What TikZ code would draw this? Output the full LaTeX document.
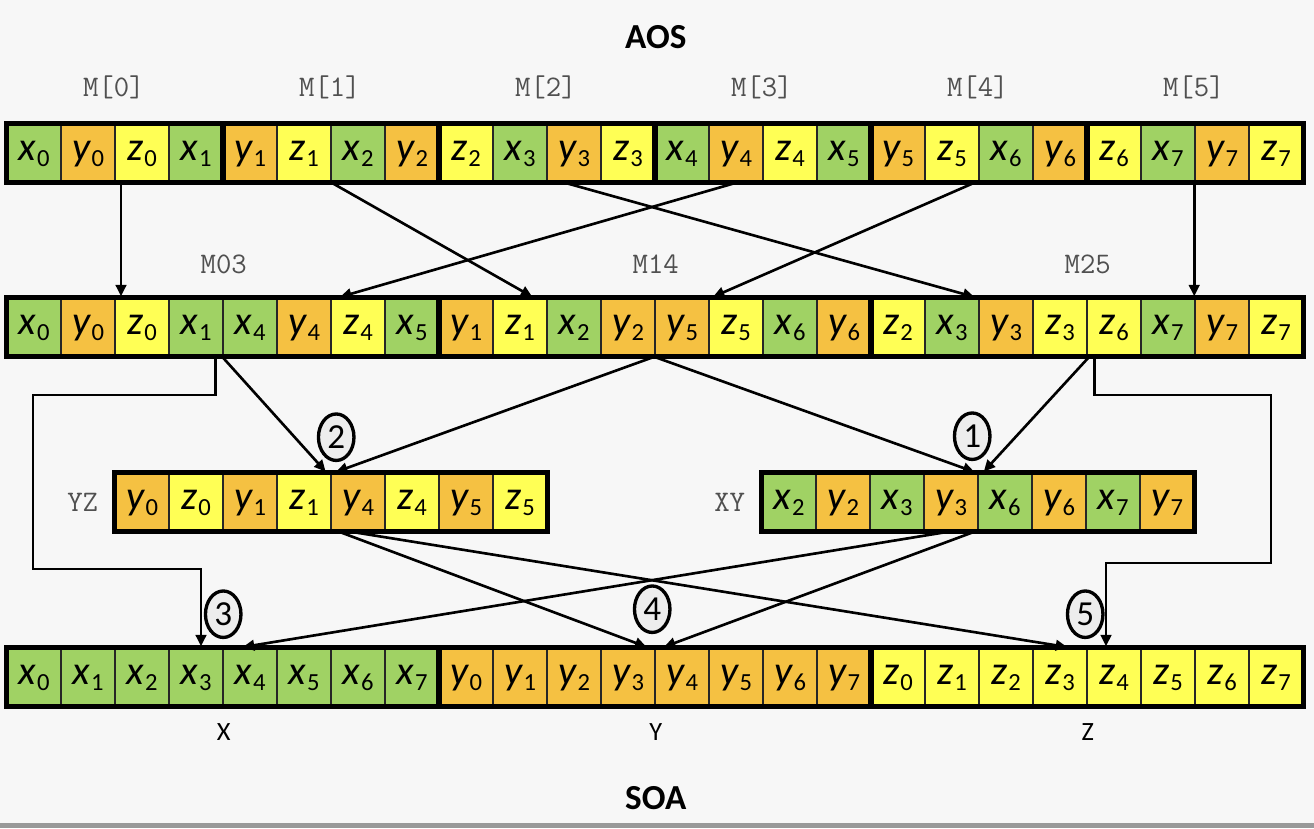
\documentclass[tikz,border=0pt]{standalone}
\usepackage{fontspec}
\setmainfont{Carlito}
\usetikzlibrary{positioning,calc,arrows.meta,shapes.geometric}

\definecolor{colx}{HTML}{A0D264}
\definecolor{coly}{HTML}{F5C142}
\definecolor{colz}{HTML}{FFFF55}
\definecolor{paper}{HTML}{F7F7F7}
\definecolor{labelgray}{HTML}{505050}
\definecolor{numgray}{HTML}{EDEDED}

\newcommand{\elem}[2]{{\itshape #1}\kern0.8pt\raisebox{-3.5pt}{\fontsize{14}{14}\selectfont #2}}

\begin{document}
\begin{tikzpicture}[x=0.02cm,y=-0.02cm,
  cell/.style={draw=black!85,line width=0.9pt,minimum width=1.08cm,minimum height=1.16cm,
    inner sep=0pt,text height=12pt,text depth=4pt,font=\fontsize{23}{23}\selectfont},
  groupbox/.style={draw=black,line width=2.8pt},
  codelabel/.style={font=\ttfamily\fontsize{17}{17}\selectfont,text=labelgray,inner sep=0pt},
  caption/.style={font=\fontsize{15}{15}\selectfont,inner sep=0pt},
  title/.style={font=\bfseries\fontsize{20}{20}\selectfont,inner sep=0pt},
  num/.style={ellipse,draw,line width=1.9pt,fill=numgray,minimum width=0.71cm,
    minimum height=0.93cm,inner sep=0pt,font=\fontsize{20}{20}\selectfont},
  flow/.style={-{Triangle[length=6.5pt,width=6pt]},line width=1.5pt,shorten >=0.5pt}]

   \fill[paper] (0,0) rectangle (1314,828);
   \fill[black!40] (0,823) rectangle (1314,828);

   % AOS row
   \foreach \l/\i [count=\k from 0] in {x/0,y/0,z/0,x/1,y/1,z/1,x/2,y/2,z/2,x/3,y/3,z/3,
       x/4,y/4,z/4,x/5,y/5,z/5,x/6,y/6,z/6,x/7,y/7,z/7}
     \node[cell,fill=col\l] (r1c\k) at ({34+54*\k},153) {\elem{\l}{\i}};
   \foreach \a/\b in {0/3,4/7,8/11,12/15,16/19,20/23}
     \draw[groupbox] (r1c\a.north west) rectangle (r1c\b.south east);

   % shuffled row
   \foreach \l/\i [count=\k from 0] in {x/0,y/0,z/0,x/1,x/4,y/4,z/4,x/5,y/1,z/1,x/2,y/2,
       y/5,z/5,x/6,y/6,z/2,x/3,y/3,z/3,z/6,x/7,y/7,z/7}
     \node[cell,fill=col\l] (r2c\k) at ({34+54*\k},327) {\elem{\l}{\i}};
   \foreach \a/\b in {0/7,8/15,16/23}
     \draw[groupbox] (r2c\a.north west) rectangle (r2c\b.south east);

   % YZ and XY
   \foreach \l/\i [count=\k from 0] in {y/0,z/0,y/1,z/1,y/4,z/4,y/5,z/5}
     \node[cell,fill=col\l] (yz\k) at ({142+54*\k},502) {\elem{\l}{\i}};
   \foreach \l/\i [count=\k from 0] in {x/2,y/2,x/3,y/3,x/6,y/6,x/7,y/7}
     \node[cell,fill=col\l] (xy\k) at ({789+54*\k},502) {\elem{\l}{\i}};
   \draw[groupbox] (yz0.north west) rectangle (yz7.south east);
   \draw[groupbox] (xy0.north west) rectangle (xy7.south east);

   % SOA row
   \foreach \l/\i [count=\k from 0] in {x/0,x/1,x/2,x/3,x/4,x/5,x/6,x/7,y/0,y/1,y/2,y/3,
       y/4,y/5,y/6,y/7,z/0,z/1,z/2,z/3,z/4,z/5,z/6,z/7}
     \node[cell,fill=col\l] (b\k) at ({34+54*\k},677) {\elem{\l}{\i}};
   \foreach \a/\b in {0/7,8/15,16/23}
     \draw[groupbox] (b\a.north west) rectangle (b\b.south east);

   % labels
   \node[title] (aos) at ($(r1c11.north east)+(0,-86)$) {AOS};
   \node[title] (soa) at ($(b11.south east)+(0,91)$) {SOA};
   \foreach \g/\c in {0/1,1/5,2/9,3/13,4/17,5/21}
     \node[codelabel] (m\g) at ($(r1c\c.north east)+(-2,-36)$) {M[\g]};
   \node[codelabel] (m03) at ($(r2c3.north east)+(0,-33)$) {M03};
   \node[codelabel] (m14) at ($(r2c11.north east)+(0,-33)$) {M14};
   \node[codelabel] (m25) at ($(r2c19.north east)+(0,-33)$) {M25};
   \node[codelabel] (yzl) [left=9pt of yz0] {YZ};
   \node[codelabel] (xyl) [left=9pt of xy0] {XY};
   \node[caption] (xl) at ($(b3.south east)+(0,25)$) {X};
   \node[caption] (yl) at ($(b11.south east)+(0,25)$) {Y};
   \node[caption] (zl) at ($(b19.south east)+(0,25)$) {Z};

   % steps
   \node[num] (n1) at ($(xy4.north west)+(-5,-36)$) {1};
   \node[num] (n2) at ($(yz4.north west)+(6,-35)$) {2};
   \node[num] (n3) at ($(b4.north west)+(1,-33)$) {3};
   \node[num] (n4) at ($(b12.north west)+(-2,-38)$) {4};
   \node[num] (n5) at ($(b20.north west)+(-1,-33)$) {5};

   \coordinate (xbendA) at (33,395);
   \coordinate (xbendB) at (33,569);
   \coordinate (zbendA) at (1271,395);
   \coordinate (zbendB) at (1271,563);

   \path[flow]
        ($(r1c2.south)+(-21,0)$) edge ($(r2c2.north)+(-21,0)$)
        (r1c5.south east) edge ($(r2c9.north)+(13,0)$)
        ($(r1c10.south)+(-9,0)$) edge ($(r2c18.north west)+(-3,0)$)
        (r1c13.south) edge ($(r2c6.north west)+(9,0)$)
        ($(r1c18.south west)+(-4,0)$) edge ($(r2c13.north west)+(4,0)$)
        (r1c22.south west) edge (r2c22.north west)

        (r2c4.south west) edge ($(yz4.north west)+(-4,0)$)
        (r2c12.south west) edge ($(yz4.north west)+(5,0)$)
        (r2c12.south west) edge ($(xy4.north west)+(-2,0)$)
        ($(r2c20.south west)+(3,0)$) edge ($(xy4.north west)+(6,0)$)

        ($(yz4.south west)+(9,0)$) edge ($(b12.north west)+(-7,0)$)
        ($(yz4.south west)+(21,0)$) edge ($(b19.north)+(8,0)$)
        ($(xy3.south)+(-3,0)$) edge ($(b4.north)+(-8,0)$)
        ($(xy4.south west)+(-3,0)$) edge ($(b12.north west)+(9,0)$)
        ;
   \draw[flow] ($(r2c3.south east)+(-8,0)$) |- (xbendA) -- (xbendB) -| ($(b3.north)+(5,0)$);
   \draw[flow] ($(r2c20.south west)+(8,0)$) |- (zbendA) -- (zbendB) -| ($(b20.north)+(-8,0)$);
\end{tikzpicture}
\end{document}
